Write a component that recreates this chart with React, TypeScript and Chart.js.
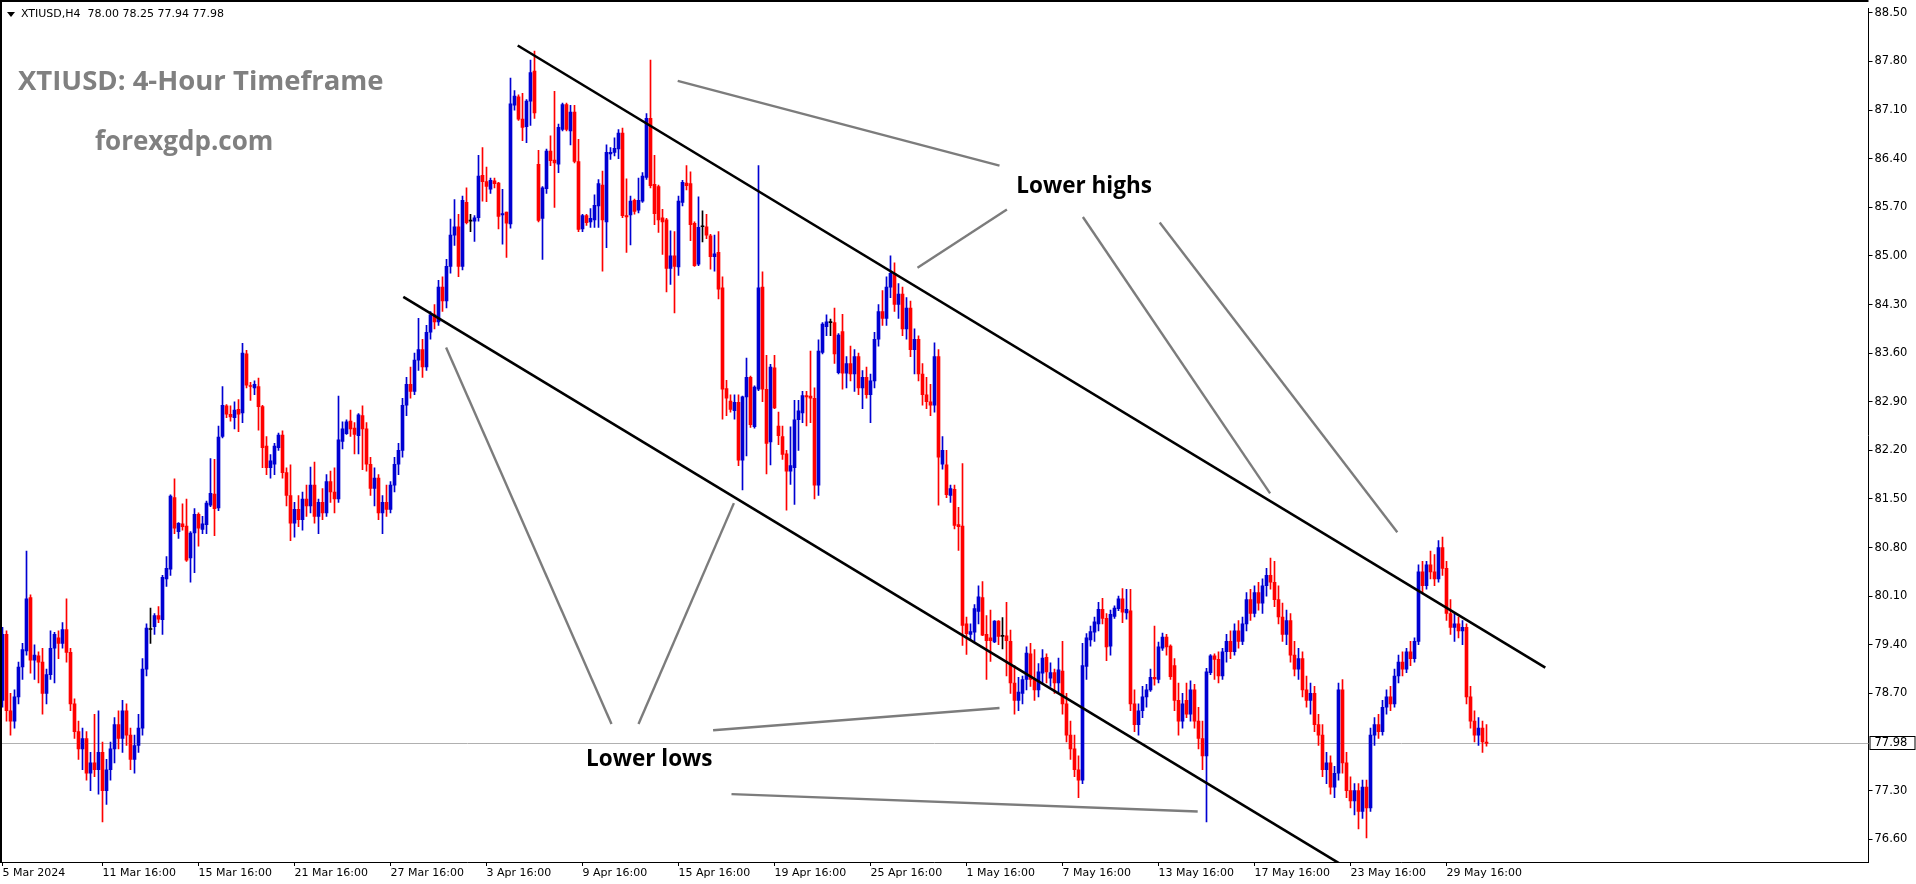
import React, { useEffect, useRef } from "react";
import { Chart, registerables } from "chart.js";

Chart.register(...registerables);

// ---- XTIUSD H4 candles (bar 0 = 5 Mar 2024) ----
const opens = [
  78.60,79.55,78.45,78.30,78.65,79.08,79.31,80.08,79.18,79.24,79.15,78.70,
  78.97,79.35,79.50,79.42,79.62,79.29,78.55,78.15,77.90,78.05,77.55,77.70,
  77.60,77.85,77.30,77.60,77.90,78.25,78.05,78.45,78.10,77.75,77.95,78.20,
  79.05,79.62,79.66,79.82,79.76,80.35,80.49,81.52,81.03,81.14,81.11,80.65,
  81.01,81.28,81.06,81.13,81.41,81.57,81.37,82.40,82.84,82.72,82.67,82.79,
  82.74,83.59,83.13,83.10,83.12,82.83,82.26,81.95,82.00,82.24,82.42,81.88,
  81.55,81.15,81.35,81.20,81.50,81.40,81.70,81.25,81.45,81.30,81.75,81.60,
  81.50,82.33,82.44,82.62,82.52,82.41,82.70,82.51,82.00,81.65,81.80,81.30,
  81.45,81.35,81.70,82.00,82.20,82.85,83.15,83.05,83.50,83.65,83.40,83.90,
  84.15,84.05,84.55,84.35,84.85,85.30,85.42,84.85,85.77,85.50,85.50,85.55,
  86.16,86.07,85.96,86.08,86.05,85.59,85.63,85.46,87.17,87.29,86.97,86.86,
  87.23,87.66,86.32,85.54,85.97,86.51,86.38,86.32,86.82,87.18,86.80,87.07,
  86.36,85.39,85.58,85.49,85.52,85.72,86.02,85.49,86.47,86.49,86.54,86.77,
  85.58,85.59,85.80,85.66,85.79,86.13,86.98,86.03,86.00,85.55,85.52,84.82,
  85.00,84.84,85.77,86.05,86.04,85.47,84.88,85.42,85.42,85.29,84.99,85.05,
  84.54,83.09,82.91,82.77,82.89,82.06,82.97,83.25,82.54,83.08,84.55,83.08,
  82.32,83.39,82.55,82.40,82.15,81.90,81.95,82.64,82.74,82.99,82.98,82.95,
  81.70,83.61,83.98,84.04,84.04,83.32,83.91,83.31,83.45,83.30,83.55,83.10,
  83.25,83.00,83.20,83.80,84.20,84.10,84.55,84.75,84.30,84.45,83.95,84.25,
  83.65,83.80,83.30,83.00,82.90,82.85,83.55,82.00,81.99,81.55,81.64,81.13,
  81.11,79.70,79.55,79.58,79.88,80.08,79.55,79.50,79.44,79.74,79.52,79.53,
  79.45,78.85,78.60,78.70,78.90,79.27,78.90,78.75,78.99,79.22,78.92,79.00,
  78.85,79.02,78.55,78.10,77.90,77.60,77.45,79.09,79.47,79.58,79.70,79.91,
  79.78,79.38,79.81,79.92,80.06,79.86,79.89,78.55,78.25,78.45,78.65,78.75,
  78.93,78.90,79.35,79.51,79.38,79.10,78.60,78.30,78.60,78.40,78.75,78.30,
  78.05,77.80,79.00,79.24,79.19,78.95,79.30,79.45,79.30,79.60,79.45,79.70,
  80.05,79.85,80.15,80.00,80.25,80.40,80.30,80.05,79.80,79.55,79.75,79.25,
  79.05,79.20,78.75,78.60,78.70,78.25,78.10,77.60,77.70,77.35,77.55,78.75,
  77.70,77.30,77.15,77.30,77.00,77.35,77.05,78.10,78.25,78.15,78.50,78.65,
  78.55,78.95,79.15,79.05,79.30,79.20,79.45,80.45,80.25,80.55,80.45,80.35,
  80.80,80.50,79.85,79.65,79.70,79.60,79.65,78.65,78.30,78.10,78.20,78.00,
];
const highs = [
  79.65,79.60,78.70,78.75,79.15,79.42,80.75,80.12,79.40,79.30,79.35,79.05,
  79.60,79.58,79.60,79.72,80.06,79.35,78.62,78.30,78.20,78.15,77.85,78.40,
  78.45,78.00,77.75,78.00,78.35,78.45,78.60,78.55,78.20,78.10,78.40,79.20,
  79.70,79.93,79.85,79.95,80.40,80.67,81.56,81.79,81.16,81.43,81.50,81.03,
  81.36,81.30,81.25,81.47,82.08,82.07,82.55,83.12,82.86,82.84,82.90,82.93,
  83.74,83.64,83.18,83.20,83.24,82.85,82.40,82.14,82.30,82.45,82.48,81.95,
  81.99,81.45,81.55,81.60,81.70,81.96,82.03,81.50,81.65,81.85,81.90,81.95,
  82.98,82.61,82.64,82.78,82.60,82.73,82.84,82.60,82.10,81.95,81.85,81.55,
  81.70,81.75,82.10,82.30,82.95,83.25,83.40,83.60,84.10,83.80,84.00,84.20,
  84.30,84.65,84.70,84.95,85.53,85.81,85.60,85.86,85.98,85.60,85.58,86.45,
  86.56,86.28,86.12,86.12,86.06,85.96,85.63,87.56,87.38,87.32,87.34,87.25,
  87.82,87.95,86.52,86.00,86.54,86.73,87.37,86.90,87.20,87.20,87.17,87.17,
  86.68,85.60,85.60,85.68,85.88,86.10,86.22,86.60,86.56,86.70,86.82,86.84,
  86.11,85.86,85.82,86.12,86.20,87.05,87.82,86.45,86.02,85.67,85.54,85.36,
  85.35,85.86,86.09,86.30,86.21,85.49,85.85,85.65,85.60,85.31,85.30,85.35,
  84.70,83.21,83.00,83.00,83.00,82.98,83.53,83.27,83.13,86.30,84.77,83.57,
  83.44,83.57,82.75,82.55,82.20,82.54,82.92,82.92,83.05,83.05,83.63,83.10,
  83.79,84.04,84.15,84.09,84.25,83.88,84.16,83.55,83.70,83.65,83.60,83.35,
  83.40,83.30,83.90,84.30,84.50,84.70,85.00,84.90,84.60,84.55,84.40,84.35,
  83.95,83.85,83.45,83.25,83.15,83.75,83.65,82.40,82.20,81.70,81.70,81.38,
  82.01,79.80,79.70,79.98,80.25,80.31,79.82,79.90,79.75,79.75,79.79,80.01,
  79.61,79.10,78.93,78.95,79.37,79.42,79.33,79.13,79.33,79.27,79.14,79.05,
  79.21,79.45,78.70,78.30,78.10,77.80,79.42,79.56,79.67,79.80,80.01,80.07,
  79.85,79.90,79.96,80.10,80.21,80.20,80.20,78.75,78.55,78.80,78.83,79.05,
  79.67,79.44,79.57,79.55,79.40,79.20,78.85,78.70,78.85,78.88,78.83,78.50,
  78.30,79.06,79.26,79.27,79.30,79.35,79.55,79.60,79.70,79.75,79.80,80.15,
  80.20,80.25,80.30,80.35,80.50,80.65,80.60,80.25,80.00,79.90,79.85,79.45,
  79.35,79.30,78.95,78.85,78.80,78.40,78.25,77.85,77.80,77.65,78.85,78.90,
  77.85,77.50,77.40,77.40,77.45,77.45,78.20,78.35,78.40,78.60,78.75,78.80,
  79.05,79.25,79.30,79.35,79.45,79.50,80.55,80.60,80.60,80.75,80.70,80.90,
  80.95,80.60,80.05,79.85,79.80,79.75,79.70,78.80,78.45,78.35,78.30,78.25,
];
const lows = [
  78.50,78.30,78.10,78.20,78.55,78.90,79.25,78.99,78.90,78.85,78.40,78.55,
  78.90,78.85,79.20,79.35,79.15,78.45,78.05,77.75,77.60,77.45,77.30,77.50,
  77.25,76.85,77.10,77.45,77.70,77.90,77.85,77.95,77.60,77.55,77.85,78.10,
  78.95,79.42,79.55,79.72,79.55,80.24,80.40,81.00,80.93,81.05,80.60,80.30,
  80.44,80.82,81.00,81.00,81.39,80.97,81.33,82.38,82.67,82.62,82.51,82.47,
  82.60,83.10,82.92,83.00,82.49,81.95,81.85,81.80,81.85,82.20,81.80,81.40,
  80.90,80.95,81.10,81.05,81.25,81.30,81.15,81.00,81.20,81.25,81.45,81.30,
  81.45,82.22,82.43,82.40,82.15,82.15,81.92,81.90,81.55,81.40,81.20,81.00,
  81.25,81.30,81.60,81.85,82.10,82.70,82.95,83.00,83.35,83.25,83.35,83.80,
  83.95,84.00,84.20,84.25,84.75,85.15,84.70,84.80,85.46,85.35,85.21,85.50,
  85.79,85.78,85.90,85.98,85.39,85.17,84.98,85.40,87.10,86.95,86.66,86.63,
  86.88,86.98,85.49,84.95,85.90,86.30,85.70,86.20,86.80,86.80,86.60,86.34,
  85.35,85.35,85.44,85.41,85.41,85.41,84.78,85.12,86.39,86.44,86.40,85.55,
  85.05,85.16,85.60,85.62,85.77,86.10,85.98,85.45,85.34,85.02,84.48,84.59,
  84.18,84.72,85.72,85.95,85.22,84.85,84.86,85.20,85.25,84.81,84.78,84.38,
  82.65,82.70,82.75,82.65,81.98,81.63,82.12,82.53,82.52,83.06,82.90,81.86,
  81.99,82.80,82.28,82.07,81.34,81.71,81.42,82.20,82.60,82.55,82.60,81.50,
  81.55,83.59,83.85,83.85,83.45,83.30,83.08,83.10,83.20,83.05,83.00,82.80,
  82.95,82.60,83.10,83.70,84.00,84.00,84.40,84.20,84.10,83.85,83.80,83.55,
  83.30,83.20,82.85,82.80,82.70,82.75,81.41,81.93,81.52,81.45,81.07,80.76,
  79.39,79.26,79.46,79.45,79.70,79.53,78.90,79.16,79.43,79.40,79.34,78.95,
  78.70,78.40,78.45,78.55,78.75,78.80,78.60,78.65,78.85,78.85,78.80,78.70,
  78.70,78.40,78.00,77.75,77.50,77.20,77.40,78.90,79.38,79.45,79.60,79.70,
  79.17,79.25,79.78,79.89,79.72,79.77,78.45,78.15,78.10,78.35,78.50,78.73,
  78.82,78.85,79.32,79.25,78.90,78.45,78.10,78.20,78.35,78.30,78.20,77.90,
  77.60,76.85,78.97,78.90,78.85,78.90,79.15,79.20,79.25,79.35,79.40,79.60,
  79.75,79.80,79.90,79.85,80.10,80.20,79.95,79.70,79.45,79.40,79.15,78.95,
  78.90,78.65,78.50,78.40,78.15,77.95,77.50,77.40,77.25,77.20,77.45,77.55,
  77.20,77.05,76.95,76.75,76.90,76.62,77.00,77.95,78.05,78.10,78.40,78.45,
  78.50,78.85,78.95,79.00,79.10,79.15,79.40,80.15,80.20,80.35,80.25,80.30,
  80.40,79.75,79.55,79.45,79.50,79.40,78.55,78.20,78.00,77.95,77.85,77.94,
];
const closes = [
  79.55,78.45,78.30,78.65,79.08,79.33,80.06,79.18,79.25,79.15,78.70,78.97,
  79.35,79.55,79.42,79.62,79.29,78.55,78.15,77.90,78.05,77.55,77.70,77.60,
  77.85,77.30,77.60,77.90,78.25,78.05,78.45,78.10,77.75,77.95,78.20,79.05,
  79.64,79.62,79.82,79.77,80.37,80.50,81.54,81.08,81.15,81.10,80.62,81.01,
  81.28,81.08,81.14,81.44,81.58,81.36,82.39,82.85,82.72,82.68,82.78,82.72,
  83.60,83.14,83.12,83.15,82.83,82.24,81.95,82.05,82.26,82.42,81.88,81.55,
  81.15,81.35,81.20,81.50,81.40,81.70,81.25,81.45,81.30,81.75,81.60,81.50,
  82.35,82.51,82.61,82.51,82.43,82.71,82.51,82.00,81.65,81.80,81.30,81.45,
  81.35,81.70,82.00,82.20,82.85,83.15,83.05,83.50,83.65,83.40,83.90,84.15,
  84.05,84.55,84.35,84.85,85.30,85.42,84.85,85.80,85.48,85.50,85.55,86.15,
  86.07,86.00,86.09,86.04,85.57,85.61,85.47,87.19,87.30,86.97,86.85,87.23,
  87.64,87.06,85.51,85.98,86.51,86.37,86.34,86.85,87.18,86.82,87.07,86.36,
  85.38,85.58,85.48,85.54,85.73,86.04,85.52,86.49,86.49,86.55,86.77,85.58,
  85.56,85.79,85.64,85.80,86.15,86.98,86.01,85.61,85.52,85.49,84.82,85.00,
  84.85,85.79,86.06,86.01,85.45,84.86,85.41,85.42,85.30,84.99,85.03,84.52,
  83.08,82.95,82.79,82.89,82.06,82.97,83.25,82.57,83.11,84.54,83.08,82.30,
  83.40,82.81,82.41,82.14,81.90,81.98,82.64,82.77,82.99,82.97,82.95,81.70,
  83.63,84.02,84.05,84.04,83.59,83.86,83.31,83.45,83.30,83.55,83.10,83.25,
  83.00,83.20,83.80,84.20,84.10,84.55,84.75,84.30,84.45,83.95,84.25,83.65,
  83.80,83.30,83.00,82.90,82.85,83.55,82.10,82.20,81.56,81.65,81.12,81.10,
  79.68,79.56,79.59,79.92,80.09,79.54,79.46,79.46,79.74,79.52,79.52,79.46,
  78.85,78.60,78.72,78.90,79.28,78.90,78.75,79.01,79.21,79.01,79.00,78.85,
  79.04,78.55,78.10,77.90,77.60,77.45,79.10,79.50,79.59,79.73,79.91,79.78,
  79.37,79.84,79.93,80.06,79.87,79.91,78.55,78.25,78.45,78.65,78.75,78.93,
  78.91,79.37,79.51,79.37,78.94,78.60,78.30,78.55,78.40,78.75,78.30,78.05,
  77.80,79.01,79.24,79.19,78.95,79.30,79.45,79.30,79.60,79.45,79.70,80.05,
  79.85,80.15,80.00,80.25,80.40,80.30,80.05,79.80,79.55,79.75,79.25,79.05,
  79.20,78.75,78.60,78.70,78.25,78.10,77.60,77.70,77.35,77.55,78.75,77.70,
  77.30,77.15,77.30,77.00,77.35,77.05,78.10,78.25,78.15,78.50,78.65,78.55,
  78.95,79.15,79.05,79.30,79.20,79.45,80.45,80.25,80.55,80.45,80.35,80.80,
  80.50,79.85,79.65,79.70,79.60,79.65,78.65,78.30,78.10,78.20,78.00,77.98,
];

// x-axis time labels (bar index -> text)
const tickBars = [0, 25, 49, 73, 97, 121, 145, 169, 193, 217, 241, 265, 289, 313, 337, 361];
const tickTexts = [
  "5 Mar 2024", "11 Mar 16:00", "15 Mar 16:00", "21 Mar 16:00", "27 Mar 16:00",
  "3 Apr 16:00", "9 Apr 16:00", "15 Apr 16:00", "19 Apr 16:00", "25 Apr 16:00",
  "1 May 16:00", "7 May 16:00", "13 May 16:00", "17 May 16:00", "23 May 16:00", "29 May 16:00",
];
// price axis labels
const priceTicks = [88.5, 87.8, 87.1, 86.4, 85.7, 85.0, 84.3, 83.6, 82.9, 82.2, 81.5, 80.8, 80.1, 79.4, 78.7, 77.3, 76.6];
const lastPrice = 77.98;

// drawn annotations in (bar index, price)
const upperChannel = [[128.8, 88.03], [385.7, 79.07]];
const lowerChannel = [[100.2, 84.41], [338, 76.12]];
const pointerLines = [
  [[168.8, 87.52], [249.25, 86.30]],
  [[228.75, 84.83], [251.1, 85.67]],
  [[270.1, 85.56], [316.9, 81.58]],
  [[289.3, 85.48], [348.7, 81.02]],
  [[110.9, 83.68], [152.25, 78.26]],
  [[159.0, 78.26], [182.85, 81.44]],
  [[177.65, 78.17], [249.25, 78.49]],
  [[182.25, 77.25], [298.8, 77.0]],
];
const noteTexts = [
  { text: "Lower highs", i: 270.4, p: 86.0 },
  { text: "Lower lows", i: 161.7, p: 77.74 },
];

const SLOTS = 467;
const Y_MIN = 76.272;
const Y_MAX = 88.557;
const BULL = "#0000d2";
const BEAR = "#ff0000";
const DOJI = "#000000";
const AXIS_FONT = "DejaVu Sans";

export default function App() {
  const ref = useRef<HTMLCanvasElement>(null);

  useEffect(() => {
    const canvas = ref.current;
    if (!canvas) return;
    const labels = Array.from({ length: SLOTS }, (_, i) => String(i));
    const colors = closes.map((c, i) =>
      Math.abs(c - opens[i]) < 0.005 ? DOJI : c > opens[i] ? BULL : BEAR
    );
    const wicks = lows.map((l, i) => [l, highs[i]]);
    const bodies = opens.map((o, i) => [Math.min(o, closes[i]), Math.max(o, closes[i])]);
    const tickMap = new Map<number, string>(tickBars.map((b, i) => [b, tickTexts[i]]));

    const overlay = {
      id: "overlay",
      beforeDatasetsDraw(chart: any) {
        const { ctx, chartArea: a, scales } = chart;
        const y = Math.round(scales.y.getPixelForValue(lastPrice)) + 0.5;
        ctx.save();
        ctx.strokeStyle = "#b0b0b0";
        ctx.lineWidth = 1;
        ctx.beginPath();
        ctx.moveTo(a.left, y);
        ctx.lineTo(a.right, y);
        ctx.stroke();
        ctx.restore();
      },
      afterDraw(chart: any) {
        const { ctx, chartArea: a, scales } = chart;
        const X = (i: number) => scales.x.getPixelForValue(i);
        const Y = (p: number) => scales.y.getPixelForValue(p);
        ctx.save();
        // frame
        ctx.strokeStyle = "#000";
        ctx.lineWidth = 2;
        ctx.beginPath();
        ctx.moveTo(1, a.bottom);
        ctx.lineTo(1, 1);
        ctx.lineTo(a.right, 1);
        ctx.stroke();

        // lines clipped to plot
        ctx.save();
        ctx.beginPath();
        ctx.rect(a.left, a.top, a.right - a.left, a.bottom - a.top);
        ctx.clip();
        ctx.lineCap = "butt";
        ctx.strokeStyle = "#000";
        ctx.lineWidth = 2.6;
        for (const ln of [upperChannel, lowerChannel]) {
          ctx.beginPath();
          ctx.moveTo(X(ln[0][0]), Y(ln[0][1]));
          ctx.lineTo(X(ln[1][0]), Y(ln[1][1]));
          ctx.stroke();
        }
        ctx.strokeStyle = "#7c7c7c";
        ctx.lineWidth = 2.4;
        for (const ln of pointerLines) {
          ctx.beginPath();
          ctx.moveTo(X(ln[0][0]), Y(ln[0][1]));
          ctx.lineTo(X(ln[1][0]), Y(ln[1][1]));
          ctx.stroke();
        }
        ctx.restore();

        // notes
        ctx.fillStyle = "#000";
        ctx.font = "bold 22.5px 'Open Sans'";
        ctx.textAlign = "center";
        ctx.textBaseline = "middle";
        for (const n of noteTexts) ctx.fillText(n.text, X(n.i), Y(n.p));

        // titles
        ctx.fillStyle = "#808080";
        ctx.textAlign = "left";
        ctx.textBaseline = "alphabetic";
        ctx.font = "bold 27.5px 'Open Sans'";
        ctx.fillText("XTIUSD: 4-Hour Timeframe", 18, 90);
        ctx.font = "bold 26px 'Open Sans'";
        ctx.fillText("forexgdp.com", 95, 150);

        // header
        ctx.fillStyle = "#000";
        ctx.beginPath();
        ctx.moveTo(7, 12);
        ctx.lineTo(15, 12);
        ctx.lineTo(11, 17);
        ctx.closePath();
        ctx.fill();
        ctx.font = `11px '${AXIS_FONT}'`;
        ctx.fillText("XTIUSD,H4  78.00 78.25 77.94 77.98", 21, 17);

        // current price label on axis
        const py = Math.round(Y(lastPrice));
        ctx.fillStyle = "#ffffff";
        ctx.fillRect(a.right + 1, py - 7, 46, 14);
        ctx.strokeStyle = "#000";
        ctx.lineWidth = 1;
        ctx.strokeRect(a.right + 1.5, py - 6.5, 45, 13);
        ctx.fillStyle = "#000";
        ctx.textBaseline = "middle";
        ctx.font = `11.5px '${AXIS_FONT}'`;
        ctx.fillText(lastPrice.toFixed(2), a.right + 6, py + 0.5);
        ctx.restore();
      },
    };

    const chart = new Chart(canvas, {
      type: "bar",
      data: {
        labels,
        datasets: [
          {
            data: bodies as any,
            backgroundColor: colors,
            barThickness: 3,
            grouped: false,
            minBarLength: 1,
            borderWidth: 0,
            order: 1,
          } as any,
          {
            data: wicks as any,
            backgroundColor: colors,
            barThickness: 1,
            grouped: false,
            borderWidth: 0,
            order: 2,
          } as any,
        ],
      },
      options: {
        animation: false,
        responsive: false,
        devicePixelRatio: 1,
        events: [],
        layout: { padding: { left: 0.5, top: 1, right: 0, bottom: 0 } },
        plugins: { legend: { display: false }, tooltip: { enabled: false } },
        scales: {
          x: {
            type: "category",
            offset: true,
            grid: { display: true, drawOnChartArea: false, drawTicks: true, tickLength: 4, color: "#000", offset: false },
            border: { display: true, color: "#000", width: 1 },
            ticks: {
              autoSkip: false,
              maxRotation: 0,
              minRotation: 0,
              align: "start",
              padding: 1,
              color: "#000",
              font: { family: AXIS_FONT, size: 11 },
              callback: (v: any) => tickMap.get(Number(v)) ?? "",
            },
            afterBuildTicks: (s: any) => {
              s.ticks = tickBars.map((v) => ({ value: v }));
            },
            afterFit: (s: any) => {
              s.height = 22;
            },
          } as any,
          y: {
            type: "linear",
            position: "right",
            min: Y_MIN,
            max: Y_MAX,
            grid: { display: true, drawOnChartArea: false, drawTicks: true, tickLength: 4, color: "#000" },
            border: { display: true, color: "#000", width: 1 },
            ticks: {
              padding: 2,
              color: "#000",
              font: { family: AXIS_FONT, size: 11.5 },
              callback: (v: any) => Number(v).toFixed(2),
            },
            afterBuildTicks: (s: any) => {
              s.ticks = priceTicks.map((v) => ({ value: v }));
            },
            afterFit: (s: any) => {
              s.width = 47.5;
            },
          } as any,
        },
      },
      plugins: [overlay],
    });
    return () => chart.destroy();
  }, []);

  return (
    <div style={{ position: "fixed", left: 0, top: 0, width: 1916, height: 884, background: "#fff" }}>
      <canvas ref={ref} width={1916} height={884} style={{ display: "block" }} />
    </div>
  );
}
